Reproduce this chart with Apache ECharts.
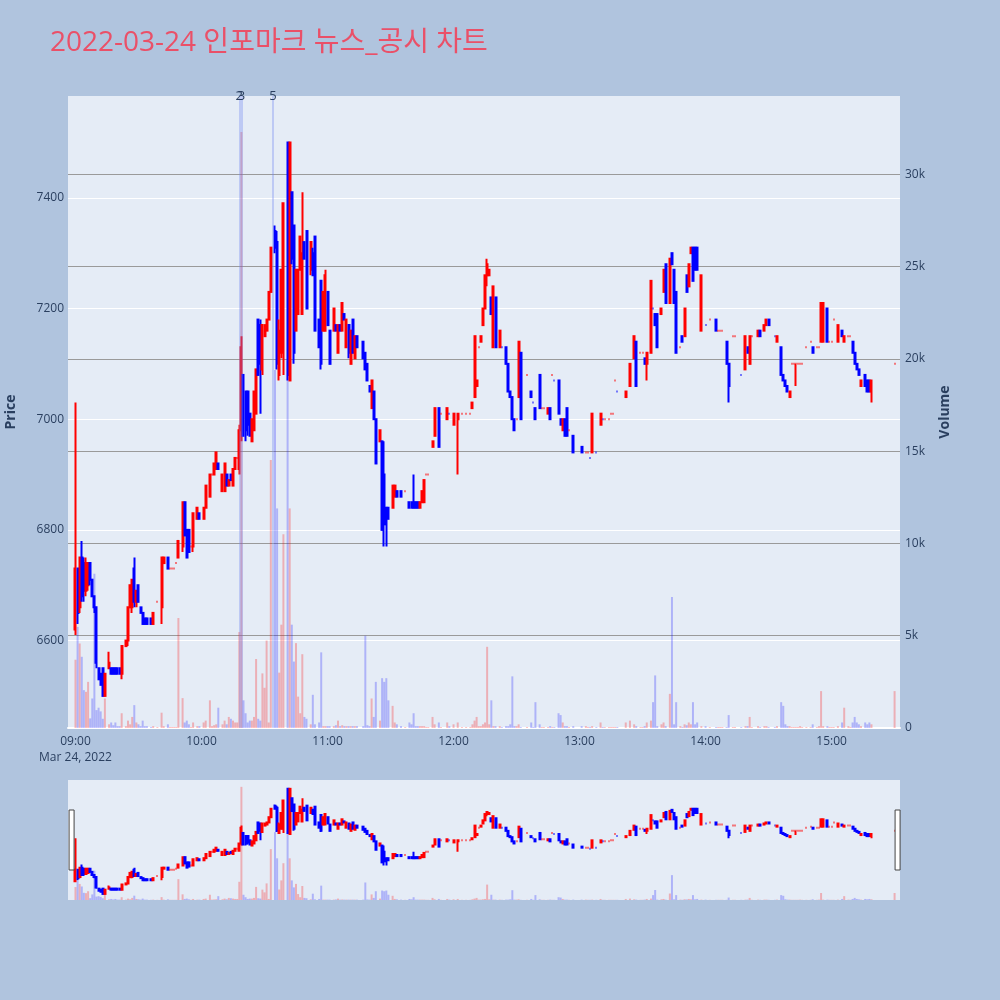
<!DOCTYPE html>
<html><head><meta charset="utf-8">
<script src="https://cdn.jsdelivr.net/npm/echarts@6/dist/echarts.min.js"></script>
<style>html,body{margin:0;padding:0;background:#b0c4de;}#c{width:1000px;height:1000px;}</style>
</head><body><div id="c"></div>
<script>
const DAY = '2022-03-24';
const titleText = '2022-03-24 인포마크 뉴스_공시 차트';
const dateLabel = 'Mar 24, 2022';
// rows: [time, open, high, low, close, volume]
const bars09 = [
['09:00',6620,7030,6610,6730,3700],['09:01',6730,6730,6630,6650,5480],['09:02',6660,6750,6650,6750,4580],
['09:03',6750,6780,6670,6680,3860],['09:04',6740,6750,6670,6690,2050],['09:05',6690,6750,6680,6740,1960],
['09:06',6700,6740,6690,6740,2500],['09:07',6740,6740,6700,6710,520],['09:08',6710,6710,6680,6680,1600],
['09:09',6680,6680,6650,6660,8360],['09:10',6660,6660,6550,6560,970],['09:11',6550,6550,6530,6530,1100],
['09:12',6540,6540,6520,6520,900],['09:13',6550,6550,6500,6500,500],['09:14',6500,6540,6500,6540,1600],
['09:16',6550,6580,6550,6560,200],['09:17',6550,6550,6540,6540,300],['09:18',6550,6550,6540,6540,150],
['09:19',6550,6550,6540,6540,300],['09:20',6550,6550,6540,6540,100],['09:21',6550,6550,6540,6540,100],
['09:22',6540,6590,6530,6590,800],['09:24',6590,6600,6590,6600,100],['09:25',6600,6660,6590,6660,400],
['09:26',6660,6700,6660,6700,200],['09:27',6660,6710,6650,6710,600],['09:28',6730,6750,6660,6670,1240],
['09:29',6670,6690,6660,6690,300],['09:30',6700,6700,6670,6670,200],['09:31',6660,6660,6650,6650,100],
['09:32',6650,6650,6630,6630,400],['09:33',6640,6640,6630,6630,100],['09:34',6640,6640,6630,6630,100],
['09:36',6640,6640,6630,6630,50],['09:37',6630,6650,6630,6650,100],['09:39',6670,6670,6670,6670,50],
['09:41',6660,6750,6630,6750,830],['09:42',6740,6750,6740,6750,100],['09:44',6750,6750,6730,6730,200],
['09:45',6730,6730,6730,6730,50],['09:46',6730,6730,6730,6730,50],['09:47',6730,6730,6730,6730,50],
['09:48',6740,6740,6740,6740,50],['09:49',6750,6780,6750,6780,5960],['09:51',6770,6850,6760,6850,1620],
['09:52',6850,6850,6790,6790,300],['09:53',6800,6800,6750,6750,400],['09:54',6800,6800,6760,6760,200],
['09:55',6770,6770,6770,6770,50],['09:56',6770,6830,6760,6830,300],['09:58',6820,6840,6820,6840,100],
['09:59',6830,6830,6820,6820,100]
];
const bars10 = [
['10:01',6820,6840,6820,6840,300],['10:02',6840,6880,6840,6880,400],['10:04',6860,6900,6860,6900,1500],
['10:05',6900,6900,6900,6900,100],['10:06',6900,6920,6900,6920,150],['10:07',6910,6940,6910,6940,200],
['10:08',6920,6920,6910,6910,1100],['10:10',6870,6900,6870,6900,200],['10:11',6870,6920,6870,6920,400],
['10:12',6900,6900,6880,6880,200],['10:13',6880,6890,6880,6890,600],['10:14',6900,6900,6890,6890,500],
['10:15',6880,6910,6880,6910,400],['10:16',6910,6930,6910,6930,300],['10:17',6930,6930,6930,6930,300],
['10:18',6910,6990,6900,6980,5200],['10:19',6980,7150,6960,7130,32300],['10:20',7080,7080,6970,6970,1500],
['10:21',7050,7050,6960,6980,800],['10:22',7050,7050,6970,6990,300],['10:23',7010,7010,6970,6970,400],
['10:24',6960,7000,6960,7000,400],['10:25',6980,7050,6980,7050,600],['10:26',7010,7090,7010,7090,3740],
['10:27',7180,7180,7080,7080,500],['10:28',7170,7180,7010,7100,400],['10:29',7090,7170,7080,7170,2960],
['10:30',7150,7170,7150,7170,2180],['10:31',7160,7180,7160,7180,4740],['10:32',7180,7230,7180,7230,300],
['10:33',7230,7310,7230,7310,14530],['10:35',7340,7350,7300,7310,19400],['10:36',7320,7340,7090,7100,11900],
['10:37',7080,7180,7070,7160,3000],['10:38',7120,7270,7110,7270,5600],['10:39',7120,7390,7080,7390,10500],
['10:41',7500,7500,7070,7080,19900],['10:42',7070,7500,7070,7500,11900],['10:43',7410,7410,7280,7290,5600],
['10:44',7350,7350,7100,7120,3600],['10:45',7160,7270,7160,7270,4600],['10:46',7190,7270,7190,7270,1700],
['10:47',7270,7330,7270,7330,800],['10:48',7190,7410,7190,7300,4000],['10:49',7320,7320,7290,7290,600],
['10:50',7340,7340,7200,7200,500],['10:52',7270,7320,7260,7320,200],['10:53',7300,7310,7260,7260,1800],
['10:54',7330,7330,7160,7160,200],['10:56',7180,7180,7130,7130,300],['10:57',7250,7250,7090,7100,4100],
['10:58',7160,7230,7160,7230,100],['10:59',7160,7270,7160,7260,100]
];
const bars11 = [
['11:00',7230,7230,7170,7170,100],['11:01',7160,7160,7100,7100,100],['11:03',7160,7200,7160,7200,100],
['11:04',7170,7170,7160,7160,150],['11:05',7120,7170,7120,7170,400],['11:06',7170,7170,7160,7160,100],
['11:07',7160,7210,7160,7210,150],['11:08',7190,7190,7180,7180,100],['11:09',7130,7180,7130,7180,100],
['11:10',7170,7170,7110,7120,100],['11:11',7100,7160,7100,7160,100],['11:12',7180,7180,7120,7120,100],
['11:13',7110,7150,7110,7150,100],['11:14',7150,7150,7130,7130,100],['11:17',7140,7140,7110,7110,100],
['11:18',7120,7120,7090,7090,5000],['11:19',7100,7100,7070,7070,150],['11:20',7060,7060,7050,7050,100],
['11:21',7020,7070,7020,7070,1600],['11:22',7050,7050,7000,7000,600],['11:23',7000,7000,6920,6920,2500],
['11:25',6960,6980,6960,6980,400],['11:26',6960,6960,6800,6800,2700],['11:27',6900,6960,6770,6810,2500],
['11:28',6840,6840,6770,6810,2700],['11:29',6840,6840,6820,6820,1500],['11:31',6840,6880,6840,6880,1200],
['11:32',6860,6880,6860,6880,300],['11:33',6870,6870,6860,6860,200],['11:35',6870,6870,6860,6860,100],
['11:37',6870,6870,6870,6870,50],['11:39',6850,6850,6840,6840,300],['11:40',6850,6850,6840,6840,200],
['11:41',6850,6900,6840,6840,800],['11:42',6850,6850,6840,6840,100],['11:43',6850,6850,6840,6840,100],
['11:44',6840,6850,6840,6850,100],['11:45',6850,6870,6850,6870,100],['11:46',6850,6890,6850,6890,100],
['11:47',6900,6900,6900,6900,50],['11:48',6900,6900,6900,6900,50],['11:50',6950,6960,6950,6960,600],
['11:51',6970,7020,6970,7020,200],['11:53',7020,7020,6950,6950,300],['11:54',7010,7010,7010,7010,50],
['11:57',7000,7020,7000,7020,300],['11:58',7010,7010,7010,7010,100]
];
const bars12 = [
['12:00',6990,7010,6990,7010,200],['12:02',7000,7010,6900,7010,300],['12:04',7010,7010,7010,7010,50],
['12:06',7010,7010,7010,7010,50],['12:08',7010,7010,7010,7010,50],['12:09',7020,7030,7020,7030,200],
['12:10',7040,7150,7040,7150,400],['12:11',7060,7070,7060,7070,600],['12:12',7130,7130,7130,7130,100],
['12:13',7140,7150,7140,7150,100],['12:14',7170,7200,7170,7200,200],['12:15',7200,7260,7200,7260,300],
['12:16',7260,7290,7240,7280,4400],['12:17',7260,7270,7260,7270,200],['12:18',7220,7220,7190,7190,1500],
['12:19',7130,7240,7130,7240,100],['12:20',7220,7220,7130,7130,100],['12:22',7130,7160,7130,7160,100],
['12:23',7130,7130,7130,7130,50],['12:25',7130,7130,7100,7100,100],['12:26',7100,7100,7050,7050,100],
['12:27',7050,7050,7040,7040,200],['12:28',7040,7040,7000,7000,2800],['12:29',7000,7000,6980,6980,100],
['12:30',7000,7000,7000,7000,100],['12:31',7040,7140,7040,7140,200],['12:32',7120,7120,7000,7000,50],
['12:35',7080,7080,7080,7080,50],['12:37',7050,7050,7040,7040,300],['12:38',7030,7030,7030,7030,50],
['12:39',7020,7020,7000,7000,1400],['12:41',7080,7080,7020,7020,200],['12:42',7020,7020,7020,7020,50],
['12:43',7020,7020,7020,7020,50],['12:45',7010,7020,7010,7020,50],['12:46',7020,7020,7000,7000,100],
['12:47',7080,7080,7080,7080,50],['12:48',7070,7070,7070,7070,50],['12:50',7070,7070,7010,7010,800],
['12:51',7000,7000,6990,6990,700],['12:52',6980,7000,6980,7000,300],['12:53',7000,7000,6970,6970,100],
['12:54',7020,7020,6970,6970,100],['12:55',6980,6980,6980,6980,50],['12:57',6970,6970,6940,6940,100]
];
const bars13 = [
['13:01',6950,6950,6940,6940,100],['13:03',6940,6940,6940,6940,100],['13:04',6940,6940,6940,6940,50],
['13:05',6930,6930,6930,6930,50],['13:06',6940,7010,6940,7010,100],['13:08',6940,6940,6940,6940,50],
['13:10',6990,7010,6990,7010,300],['13:11',7000,7000,7000,7000,50],['13:12',7000,7000,7000,7000,50],
['13:14',7000,7000,7000,7000,50],['13:15',7010,7010,7010,7010,50],['13:16',7010,7010,7010,7010,50],
['13:17',7070,7070,7070,7070,50],['13:18',7050,7050,7050,7050,50],['13:22',7040,7050,7040,7050,300],
['13:24',7060,7100,7060,7100,400],['13:26',7110,7150,7110,7150,200],['13:27',7140,7140,7060,7060,100],
['13:29',7120,7120,7120,7120,50],['13:30',7120,7120,7120,7120,50],['13:31',7110,7110,7100,7100,100],
['13:32',7100,7120,7070,7120,300],['13:34',7120,7250,7120,7250,400],['13:35',7200,7200,7200,7200,1400],
['13:36',7190,7190,7170,7170,2850],['13:37',7190,7190,7130,7130,100],['13:39',7190,7200,7190,7200,200],
['13:40',7230,7270,7230,7270,300],['13:41',7280,7280,7210,7210,100],['13:43',7210,7290,7210,7290,1850],
['13:44',7300,7300,7280,7280,7100],['13:45',7270,7270,7210,7210,200],['13:46',7230,7230,7120,7120,1400],
['13:48',7130,7130,7130,7130,100],['13:49',7150,7150,7140,7140,50],['13:50',7150,7200,7150,7200,200],
['13:51',7260,7260,7230,7230,150],['13:52',7240,7280,7240,7280,300],['13:53',7300,7310,7300,7310,200],
['13:54',7310,7310,7250,7250,1400],['13:55',7310,7310,7270,7270,200],['13:56',7310,7310,7270,7270,300],
['13:58',7160,7260,7160,7260,100]
];
const bars14 = [
['14:00',7170,7170,7170,7170,100],['14:02',7180,7180,7180,7180,50],['14:05',7180,7180,7160,7160,50],
['14:06',7160,7160,7160,7160,50],['14:07',7160,7160,7160,7160,50],['14:08',7160,7160,7160,7160,50],
['14:10',7140,7140,7100,7100,50],['14:11',7100,7100,7030,7060,700],['14:13',7150,7150,7150,7150,50],
['14:14',7150,7150,7150,7150,50],['14:17',7080,7080,7080,7080,50],['14:19',7090,7150,7090,7150,100],
['14:20',7130,7130,7120,7120,100],['14:21',7100,7150,7100,7150,600],['14:22',7150,7150,7150,7150,50],
['14:25',7150,7160,7150,7160,100],['14:26',7160,7160,7150,7150,50],['14:28',7160,7170,7160,7170,100],
['14:29',7170,7180,7170,7180,100],['14:30',7180,7180,7170,7170,50],['14:33',7150,7150,7150,7150,50],
['14:34',7140,7150,7140,7150,100],['14:36',7130,7130,7080,7080,1400],['14:37',7080,7080,7070,7070,1200],
['14:38',7070,7070,7060,7060,200],['14:39',7060,7060,7050,7050,100],['14:40',7040,7050,7040,7050,100],
['14:41',7100,7100,7100,7100,50],['14:42',7100,7100,7100,7100,50],['14:43',7100,7100,7060,7100,50],
['14:44',7100,7100,7100,7100,50],['14:45',7100,7100,7100,7100,100],['14:46',7100,7100,7100,7100,50],
['14:48',7130,7130,7130,7130,50],['14:50',7140,7140,7140,7140,50],['14:51',7130,7130,7120,7120,200],
['14:53',7130,7130,7130,7130,50],['14:54',7130,7130,7130,7130,100],['14:55',7140,7210,7140,7210,2000],
['14:56',7140,7210,7140,7210,100],['14:58',7200,7200,7140,7140,100],['14:59',7140,7140,7140,7140,50]
];
const bars15 = [
['15:00',7140,7140,7140,7140,50],['15:01',7180,7180,7180,7180,50],['15:03',7140,7170,7140,7170,100],
['15:05',7160,7160,7150,7150,300],['15:06',7140,7150,7140,7150,1100],['15:08',7150,7150,7150,7150,100],
['15:09',7150,7150,7150,7150,50],['15:10',7140,7140,7120,7120,300],['15:11',7120,7120,7100,7100,600],
['15:12',7100,7100,7090,7090,300],['15:13',7090,7090,7080,7080,200],['15:14',7060,7070,7060,7070,100],
['15:16',7080,7080,7060,7060,300],['15:17',7070,7070,7050,7050,200],['15:18',7070,7070,7050,7050,300],
['15:19',7050,7070,7030,7070,200],['15:30',7100,7100,7100,7100,2000]
];
const newsLabels = ['2', '3', '5'];
const newsTimes = ['10:18', '10:19', '10:34'];
const timeTicks = ['09:00', '10:00', '11:00', '12:00', '13:00', '14:00', '15:00'];
const priceTicks = [6600, 6800, 7000, 7200, 7400];
const volumeTicks = [0, 5000, 10000, 15000, 20000, 25000, 30000];
const timeRange = ['08:56:55', '15:32:06'];
const priceRange = [6442, 7584];
const volumeRange = [0, 34250];

const FONT = '"Open Sans", "Noto Sans CJK KR", sans-serif';
const AXIS_COLOR = '#2a3f5f';
const HOUR = 3600 * 1000;
const ts = t => DAY + ' ' + t;
const rows = [].concat(bars09, bars10, bars11, bars12, bars13, bars14, bars15);
const candleData = rows.map(r => [ts(r[0]), r[1], r[4], r[3], r[2]]);
const volData = rows.map(r => [ts(r[0]), r[5]]);
const dirs = rows.map((r, i) => {
  if (r[4] > r[1]) return 1;
  if (r[4] < r[1]) return -1;
  return i > 0 && rows[i - 1][4] > r[4] ? -1 : 1;
});
const volColor = p => dirs[p.dataIndex] > 0 ? 'rgba(255,0,0,0.26)' : 'rgba(0,0,255,0.24)';
const candleStyle = {color: '#ff0000', color0: '#0000ff', borderColor: '#ff0000', borderColor0: '#0000ff', borderWidth: 2};
const two = n => String(n).padStart(2, '0');
const timeFmt = v => {
  const d = new Date(v);
  const s = two(d.getHours()) + ':' + two(d.getMinutes());
  if (d.getSeconds() !== 0 || timeTicks.indexOf(s) < 0) return '';
  return s === timeTicks[0] ? s + '\n' + dateLabel : s;
};

const chart = echarts.init(document.getElementById('c'), null, {renderer: 'canvas'});
chart.setOption({
  animation: false,
  backgroundColor: '#b0c4de',
  textStyle: {fontFamily: FONT},
  title: {text: titleText, left: 45, top: 24, textStyle: {color: '#ea5068', fontSize: 28, fontWeight: 'normal', fontFamily: FONT}},
  grid: [
    {left: 68, right: 100, top: 96, height: 632, show: true, backgroundColor: '#e5ecf6', borderWidth: 0, outerBoundsMode: 'none', containLabel: false},
    {left: 68, right: 100, top: 780, height: 120, show: true, backgroundColor: '#e5ecf6', borderWidth: 0, outerBoundsMode: 'none', containLabel: false}
  ],
  xAxis: [
    {type: 'time', gridIndex: 0, min: ts(timeRange[0]), max: ts(timeRange[1]),
     minInterval: HOUR, maxInterval: HOUR,
     axisLine: {show: true, lineStyle: {color: '#ffffff', width: 2}},
     axisTick: {show: false},
     splitLine: {show: false},
     axisLabel: {formatter: timeFmt, color: AXIS_COLOR, fontSize: 12, margin: 6, lineHeight: 16, fontFamily: FONT, hideOverlap: false}},
    {type: 'time', gridIndex: 1, min: ts(timeRange[0]), max: ts(timeRange[1]),
     axisLine: {show: false}, axisTick: {show: false}, splitLine: {show: false}, axisLabel: {show: false}}
  ],
  yAxis: [
    {type: 'value', gridIndex: 0, position: 'left', min: priceRange[0], max: priceRange[1],
     axisLine: {show: false}, axisTick: {show: false, customValues: priceTicks},
     axisLabel: {customValues: priceTicks, formatter: v => String(v), color: AXIS_COLOR, fontSize: 12, margin: 4, fontFamily: FONT},
     splitLine: {show: true, lineStyle: {color: '#ffffff', width: 1}},
     name: 'Price', nameLocation: 'middle', nameGap: 50, nameRotate: 90,
     nameTextStyle: {color: AXIS_COLOR, fontSize: 14, fontWeight: 'bold', fontFamily: FONT}},
    {type: 'value', gridIndex: 0, position: 'right', min: volumeRange[0], max: volumeRange[1],
     axisLine: {show: false}, axisTick: {show: false, customValues: volumeTicks},
     axisLabel: {customValues: volumeTicks, formatter: v => v === 0 ? '0' : (v / 1000) + 'k', color: AXIS_COLOR, fontSize: 12, margin: 5, fontFamily: FONT},
     splitLine: {show: true, lineStyle: {color: '#9a9a9a', width: 1}},
     name: 'Volume', nameLocation: 'middle', nameGap: 38, nameRotate: 90,
     nameTextStyle: {color: AXIS_COLOR, fontSize: 14, fontWeight: 'bold', fontFamily: FONT}},
    {type: 'value', gridIndex: 1, min: priceRange[0], max: priceRange[1], show: false, splitLine: {show: false}},
    {type: 'value', gridIndex: 1, min: volumeRange[0], max: volumeRange[1], show: false, splitLine: {show: false}}
  ],
  dataZoom: [{
    type: 'slider', xAxisIndex: [1], filterMode: 'none', start: 0, end: 100,
    left: 70, right: 102, top: 780, height: 120,
    showDetail: false, showDataShadow: false, brushSelect: false, realtime: false,
    backgroundColor: 'rgba(0,0,0,0)', borderColor: 'rgba(0,0,0,0)', fillerColor: 'rgba(0,0,0,0)',
    dataBackground: {lineStyle: {opacity: 0}, areaStyle: {opacity: 0}},
    selectedDataBackground: {lineStyle: {opacity: 0}, areaStyle: {opacity: 0}},
    handleIcon: 'path://M0,0H10V120H0Z', handleSize: '50%',
    handleStyle: {color: '#ffffff', borderColor: '#444444', borderWidth: 1},
    moveHandleSize: 0, moveHandleStyle: {opacity: 0},
    emphasis: {handleStyle: {color: '#ffffff', borderColor: '#444444', borderWidth: 1}, moveHandleStyle: {opacity: 0}}
  }],
  series: [
    {type: 'bar', name: 'Volume', xAxisIndex: 0, yAxisIndex: 1, data: volData, barWidth: 2, silent: true, z: 1,
     itemStyle: {color: volColor}},
    {type: 'candlestick', name: 'Price', xAxisIndex: 0, yAxisIndex: 0, data: candleData, barWidth: 1.5, silent: true, z: 2,
     itemStyle: candleStyle,
     markLine: {silent: true, symbol: ['none', 'none'], animation: false,
       lineStyle: {color: 'rgba(110,135,240,0.45)', width: 1.5, type: 'solid'},
       label: {show: true, position: 'end', distance: -7, formatter: p => p.name, color: AXIS_COLOR, fontSize: 13, fontFamily: FONT},
       emphasis: {disabled: true},
       data: newsTimes.map((t, i) => ({name: newsLabels[i], xAxis: ts(t)}))}},
    {type: 'bar', xAxisIndex: 1, yAxisIndex: 3, data: volData, barWidth: 2, silent: true, z: 1,
     itemStyle: {color: volColor}},
    {type: 'candlestick', xAxisIndex: 1, yAxisIndex: 2, data: candleData, barWidth: 1.5, silent: true, z: 2,
     itemStyle: candleStyle}
  ]
});
</script></body></html>
